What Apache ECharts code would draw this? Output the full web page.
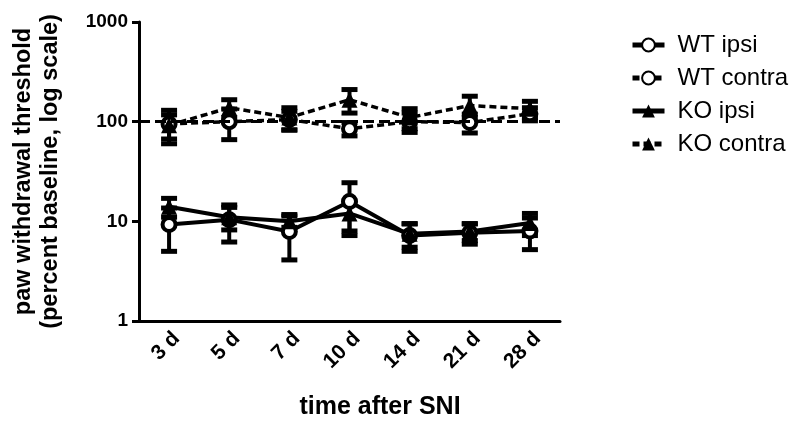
<!DOCTYPE html>
<html>
<head>
<meta charset="utf-8">
<script src="https://cdn.jsdelivr.net/npm/echarts@6/dist/echarts.min.js"></script>
<style>html,body{margin:0;padding:0;background:#fff}#c{width:800px;height:426px}</style>
</head>
<body>
<div id="c"></div>
<script>
const categories = ['3 d', '5 d', '7 d', '10 d', '14 d', '21 d', '28 d'];
const yTicks = [1, 10, 100, 1000];
const wtIpsi = [9.3, 10.4, 7.9, 15.8, 7.2, 7.7, 8.0];
const wtIpsiSem = [4.3, 4.2, 3.8, 8.6, 2.2, 1.8, 2.8];
const koIpsi = [14.0, 11.0, 10.0, 12.0, 7.5, 7.9, 9.6];
const koIpsiSem = [3.0, 2.8, 1.3, 4.0, 2.0, 1.5, 2.4];
const wtContra = [95, 100, 105, 85, 100, 98, 120];
const wtContraSem = [35, 34, 22, 13, 22, 21, 18];
const koContra = [92, 138, 110, 166, 110, 145, 135];
const koContraSem = [25, 28, 28, 44, 25, 35, 25];
const baseline = 100;

const FONT = 'Liberation Sans, Arial, sans-serif';

function errData(mean, sem) {
  return mean.map((m, i) => [i, m - sem[i], m + sem[i]]);
}
function renderErr(params, api) {
  const x = api.value(0);
  const top = api.coord([x, api.value(2)]);
  const bot = api.coord([x, api.value(1)]);
  const w = 8;
  const st = { stroke: '#000', lineWidth: 4 };
  const cap = { stroke: '#000', lineWidth: 5 };
  return {
    type: 'group',
    children: [
      { type: 'line', shape: { x1: top[0], y1: top[1], x2: bot[0], y2: bot[1] }, style: st },
      { type: 'line', shape: { x1: top[0] - w, y1: top[1], x2: top[0] + w, y2: top[1] }, style: cap },
      { type: 'line', shape: { x1: bot[0] - w, y1: bot[1], x2: bot[0] + w, y2: bot[1] }, style: cap }
    ]
  };
}
function errSeries(mean, sem) {
  return {
    type: 'custom', renderItem: renderErr, data: errData(mean, sem),
    encode: { x: 0, y: [1, 2] }, z: 2, silent: true
  };
}
const circleStyle = { color: '#fff', borderColor: '#000', borderWidth: 4 };
const triStyle = { color: '#000', borderColor: '#000', borderWidth: 0 };

const chart = echarts.init(document.getElementById('c'), null, { renderer: 'canvas' });
chart.setOption({
  animation: false,
  textStyle: { fontFamily: FONT },
  grid: { left: 139, right: 240, top: 22, bottom: 105, containLabel: false },
  legend: {
    orient: 'vertical', left: 625, top: 28,
    itemWidth: 32, itemHeight: 16, itemGap: 9,
    data: ['WT ipsi', 'WT contra', 'KO ipsi', 'KO contra'],
    lineStyle: { width: 5 },
    textStyle: { fontSize: 24, color: '#000', fontFamily: FONT, padding: [0, 0, 0, 8] }
  },
  xAxis: {
    type: 'category', data: categories, boundaryGap: true,
    axisLine: { lineStyle: { color: '#000', width: 3 } },
    axisTick: { alignWithLabel: true, length: 7, lineStyle: { color: '#000', width: 3 } },
    axisLabel: { rotate: 45, fontSize: 21, fontWeight: 'bold', color: '#000', margin: 7,
      verticalAlign: 'top', fontFamily: FONT }
  },
  yAxis: {
    type: 'log', logBase: 10, min: 1, max: 1000,
    name: 'paw withdrawal threshold\n(percent baseline, log scale)',
    nameLocation: 'middle', nameGap: 75, nameRotate: 90,
    nameTextStyle: { fontSize: 23.5, fontWeight: 'bold', color: '#000', lineHeight: 27, fontFamily: FONT },
    axisLine: { show: true, lineStyle: { color: '#000', width: 3 } },
    axisTick: { show: true, length: 7, lineStyle: { color: '#000', width: 3 } },
    axisLabel: { fontSize: 19, fontWeight: 'bold', color: '#000', margin: 11, fontFamily: FONT,
      formatter: v => (yTicks.indexOf(Math.round(v)) >= 0 ? String(Math.round(v)) : '') },
    splitLine: { show: false },
    minorTick: { show: false }
  },
  graphic: [{
    type: 'text', x: 380, y: 407,
    style: { text: 'time after SNI', font: 'bold 25px ' + FONT, fill: '#000',
      textAlign: 'center', textVerticalAlign: 'middle' }
  }],
  series: [
    errSeries(wtIpsi, wtIpsiSem),
    errSeries(wtContra, wtContraSem),
    errSeries(koIpsi, koIpsiSem),
    errSeries(koContra, koContraSem),
    {
      name: 'WT ipsi', type: 'line', data: wtIpsi, z: 4,
      symbol: 'circle', symbolSize: 13, itemStyle: circleStyle,
      lineStyle: { color: '#000', width: 4 }
    },
    {
      name: 'WT contra', type: 'line', data: wtContra, z: 4,
      symbol: 'circle', symbolSize: 13, itemStyle: circleStyle,
      lineStyle: { color: '#000', width: 3.5, type: [7, 4] },
      markLine: {
        silent: true, symbol: 'none', label: { show: false },
        lineStyle: { color: '#000', width: 3, type: [11, 5] },
        data: [{ yAxis: baseline }]
      }
    },
    {
      name: 'KO ipsi', type: 'line', data: koIpsi, z: 4,
      symbol: 'triangle', symbolSize: 16, itemStyle: triStyle,
      lineStyle: { color: '#000', width: 4 }
    },
    {
      name: 'KO contra', type: 'line', data: koContra, z: 4,
      symbol: 'triangle', symbolSize: 16, itemStyle: triStyle,
      lineStyle: { color: '#000', width: 3.5, type: [7, 4] }
    }
  ]
});
</script>
</body>
</html>
